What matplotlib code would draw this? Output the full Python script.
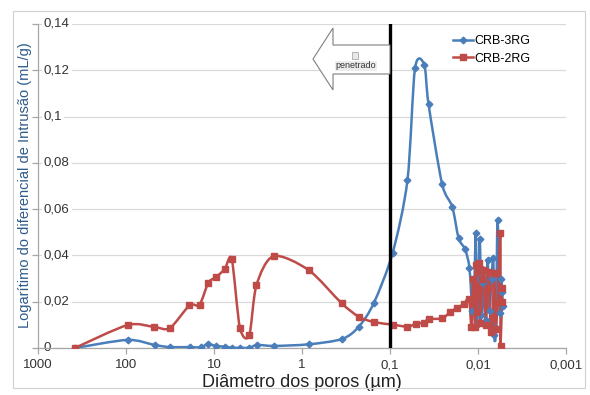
import numpy as np
import matplotlib
matplotlib.use("Agg")
import matplotlib.pyplot as plt
import matplotlib.transforms as mtransforms
from matplotlib.path import Path
from matplotlib.patches import PathPatch, Polygon, Rectangle

plt.rcParams['font.family'] = ['Liberation Sans', 'DejaVu Sans']

# ---- data ----
blue_x = [378, 96, 47.3, 31.8, 18.8, 14.2, 11.7, 9.6, 7.55, 6.28, 5.03, 3.98, 3.22, 2.07,
          0.834, 0.35, 0.226, 0.152, 0.0932, 0.0633, 0.052, 0.0408, 0.0365, 0.0256, 0.0196,
          0.0166, 0.0140, 0.0125,
          0.01155, 0.01096, 0.01059, 0.01026, 0.00987, 0.00953, 0.00913, 0.00866, 0.00821,
          0.00779, 0.00740, 0.00702, 0.00670, 0.00653, 0.00626, 0.00599, 0.00568, 0.00546,
          0.00532, 0.00524]
blue_y = [0.0, 0.0035, 0.0013, 0.0004, 0.0004, 0.0003, 0.0017, 0.0009, 0.0006, 0.0001, 0.0001,
          0.0001, 0.0013, 0.0009, 0.0016, 0.0039, 0.0092, 0.0196, 0.0412, 0.0726, 0.1208,
          0.1224, 0.1054, 0.0709, 0.061, 0.0474, 0.0426, 0.0345,
          0.016, 0.030, 0.0495, 0.010, 0.030, 0.047, 0.0143, 0.028, 0.012,
          0.038, 0.016, 0.030, 0.0387, 0.0056, 0.0085, 0.0553, 0.015, 0.030,
          0.0243, 0.018]

red_x = [381, 96, 47.7, 31.8, 19.0, 14.6, 11.6, 9.4, 7.55, 6.28, 5.08, 3.98, 3.29, 2.10,
         0.843, 0.354, 0.226, 0.152, 0.0932, 0.0634, 0.0508, 0.0408, 0.0365, 0.0256, 0.0206,
         0.0173, 0.0145, 0.01262,
         0.01186, 0.01140, 0.01079, 0.01059, 0.01040, 0.00969, 0.00937, 0.00889, 0.00849,
         0.00815, 0.00779, 0.00745, 0.00720, 0.00683, 0.00653, 0.00631, 0.00599, 0.00557,
         0.00555, 0.00532, 0.00539]
red_y = [0.0, 0.0099, 0.0091, 0.0086, 0.0184, 0.0187, 0.0282, 0.0307, 0.0341, 0.0383, 0.0088,
         0.0055, 0.0272, 0.0397, 0.0337, 0.0193, 0.0135, 0.0112, 0.0101, 0.0092, 0.0104,
         0.011, 0.0125, 0.0128, 0.0156, 0.0174, 0.019, 0.0212,
         0.009, 0.030, 0.0092, 0.0359, 0.0157, 0.0366, 0.011, 0.030, 0.0337,
         0.0099, 0.026, 0.033, 0.007, 0.0128, 0.0323, 0.008, 0.020, 0.0498,
         0.0009, 0.026, 0.020]

series_names = ['CRB-3RG', 'CRB-2RG']
x_ticks = [1000, 100, 10, 1, 0.1, 0.01, 0.001]
x_ticklabels = ['1000', '100', '10', '1', '0,1', '0,01', '0,001']
y_ticks = [0, 0.02, 0.04, 0.06, 0.08, 0.1, 0.12, 0.14]
y_ticklabels = ['0', '0,02', '0,04', '0,06', '0,08', '0,1', '0,12', '0,14']
cut_diameter = 0.1

BLUE = '#4a7ebb'
RED = '#be4b48'

W, H = 590, 395
AX_L, AX_R, AX_T, AX_B = 38, 566, 24, 348
fig = plt.figure(figsize=(W / 100, H / 100), dpi=100)
ax = fig.add_axes([AX_L / W, 1 - AX_B / H, (AX_R - AX_L) / W, (AX_B - AX_T) / H])

# outer chart frame
fig.patches.append(Rectangle((13 / W, 1 - 388 / H), (585 - 13) / W, (388 - 11) / H,
                             transform=fig.transFigure, fill=False, edgecolor='#d0d0d0', lw=0.8))


def smooth_path(xs, ys, k=1 / 7.0):
    lx = np.log10(np.asarray(xs, float))
    yy = np.asarray(ys, float)
    n = len(lx)
    verts = [(xs[0], ys[0])]
    codes = [Path.MOVETO]
    for i in range(n - 1):
        p0 = np.array([lx[max(i - 1, 0)], yy[max(i - 1, 0)]])
        p1 = np.array([lx[i], yy[i]])
        p2 = np.array([lx[i + 1], yy[i + 1]])
        p3 = np.array([lx[min(i + 2, n - 1)], yy[min(i + 2, n - 1)]])
        c1 = p1 + (p2 - p0) * k
        c2 = p2 - (p3 - p1) * k
        for c in (c1, c2):
            verts.append((10 ** c[0], c[1]))
            codes.append(Path.CURVE4)
        verts.append((xs[i + 1], ys[i + 1]))
        codes.append(Path.CURVE4)
    return Path(verts, codes)


ax.set_xscale('log')
ax.set_xlim(1000, 0.001)
ax.set_ylim(0, 0.14)

for xs, ys, col in ((blue_x, blue_y, BLUE), (red_x, red_y, RED)):
    ax.add_patch(PathPatch(smooth_path(xs, ys), facecolor='none', edgecolor=col, lw=1.8,
                           zorder=3))

ax.plot(blue_x, blue_y, linestyle='none', marker='D', ms=3.4, color=BLUE, zorder=4)
ax.plot(red_x, red_y, linestyle='none', marker='s', ms=4.5, color=RED, zorder=4)

# legend handles
ax.plot([], [], color=BLUE, lw=1.8, marker='D', ms=3.4, label=series_names[0])
ax.plot([], [], color=RED, lw=1.8, marker='s', ms=4.5, label=series_names[1])
ax.legend(loc='upper left', bbox_to_anchor=((448 - AX_L) / (AX_R - AX_L), 1 - 6 / 324),
          frameon=False, fontsize=9, handlelength=1.6, handletextpad=0.1,
          labelspacing=0.45, borderaxespad=0)

# vertical cut line
ax.axvline(cut_diameter, color='black', lw=2.4, zorder=5)

# grid & axes
ax.set_yticks(y_ticks)
ax.set_yticklabels([])
ax.set_xticks(x_ticks)
ax.set_xticklabels(x_ticklabels)
ax.minorticks_off()
ax.yaxis.grid(True, color='#d9d9d9', lw=0.9)
ax.set_axisbelow(True)
for s in ('top', 'right'):
    ax.spines[s].set_visible(False)
for s in ('left', 'bottom'):
    ax.spines[s].set_color('#a6a6a6')
    ax.spines[s].set_linewidth(0.9)
ax.tick_params(axis='both', colors='#a6a6a6', labelcolor='#333333', labelsize=9.5,
               length=4, width=0.9)
ax.tick_params(axis='x', pad=4)

# y tick labels drawn just right of the axis line (as in the reference)
blend = mtransforms.blended_transform_factory(ax.transAxes, ax.transData)
for yv, lab in zip(y_ticks, y_ticklabels):
    ax.text(6 / (AX_R - AX_L), yv, lab, transform=blend, ha='left', va='center',
            fontsize=9.5, color='#333333', zorder=2,
            bbox=dict(boxstyle='square,pad=0.15', facecolor='white', edgecolor='none'))

ax.set_xlabel('Diâmetro dos poros (µm)', fontsize=13, color='#222222', labelpad=2)
fig.text(25 / W, 1 - 185 / H, 'Logarítimo do diferencial de Intrusão (mL/g)', rotation=90,
         ha='center', va='center', fontsize=10.5, color='#2e5b8a')


def px(x, y):
    return (x / W, 1 - y / H)


# left-pointing block arrow
arrow_pts = [px(313, 59), px(333, 28), px(333, 45), px(390, 45), px(390, 74),
             px(333, 74), px(333, 90)]
fig.patches.append(Polygon(arrow_pts, closed=True, transform=fig.transFigure,
                           facecolor='white', edgecolor='#7f7f7f', lw=0.8, zorder=6))
fig.patches.append(Rectangle(px(352, 59), 6 / W, 7 / H, transform=fig.transFigure,
                             facecolor='#e8e8e8', edgecolor='#999999', lw=0.5, zorder=7))
fig.text(356 / W, 1 - 66 / H, 'penetrado', fontsize=6.5, ha='center', va='center',
         color='#333333', zorder=8,
         bbox=dict(boxstyle='square,pad=0.1', facecolor='#ececec', edgecolor='none'))

fig.savefig('out.png', dpi=100)
